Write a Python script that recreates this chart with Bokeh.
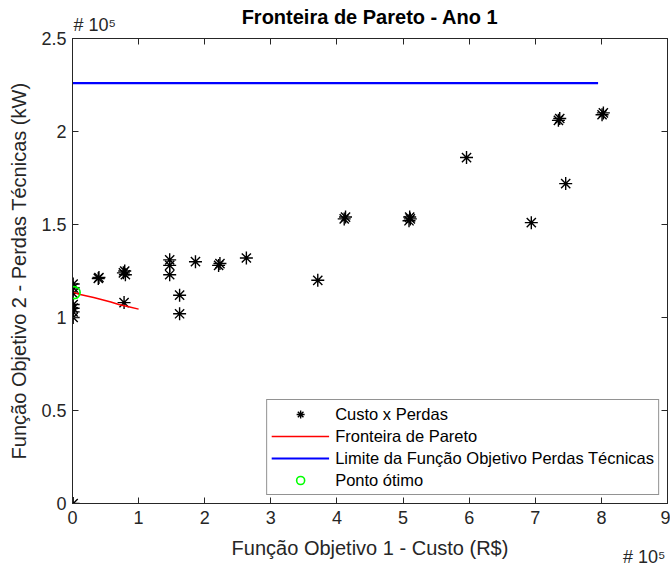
from bokeh.plotting import figure
from bokeh.models import (LinearAxis, FixedTicker, CustomJSTickFormatter, Title,
                          Legend, LegendItem, Range1d)
from bokeh.embed import file_html
from bokeh.resources import INLINE

# ---------------- data ----------------
cost = [1000, 1000, 1000, 1000, 1000, 1000, 1000, 1000,
        39000, 40000, 77000, 79000, 80000, 78000,
        147000, 147000, 147000, 162000, 162000, 186000,
        221000, 223000, 263000, 371000, 411000, 413000,
        509000, 510000, 511000, 596000, 694000, 735000,
        737000, 746000, 801000, 803000]
losses = [0, 118000, 116000, 113000, 107000, 105000, 103000, 100000,
          121000, 121500, 124000, 125000, 123000, 108000,
          131000, 128000, 123000, 112000, 102000, 130000,
          128000, 129000, 132000, 120000, 153000, 154000,
          152000, 154000, 153000, 186000, 151000, 206000,
          207000, 172000, 209000, 210000]

pareto_cost = [2000, 10000, 20000, 32000, 45000, 58000, 70000, 85000, 100000]
pareto_loss = [113500, 112500, 111700, 110700, 109500, 108300, 107000, 105800, 104500]

limit_cost = [0, 795000]
limit_loss = [226000, 226000]

opt_cost = [2500]
opt_loss = [113400]

x_ticks = [0, 100000, 200000, 300000, 400000, 500000, 600000, 700000, 800000, 900000]
y_ticks = [0, 50000, 100000, 150000, 200000, 250000]

title_text = "Fronteira de Pareto - Ano 1"
x_label = "Função Objetivo 1 - Custo (R$)"
y_label = "Função Objetivo 2 - Perdas Técnicas (kW)"
exp_text = "# 10\u2075"
legend_labels = ["Custo x Perdas", "Fronteira de Pareto",
                 "Limite da Função Objetivo Perdas Técnicas", "Ponto ótimo"]

# ---------------- styling ----------------
FONT = "Liberation Sans"
AX = "#262626"

p = figure(width=670, height=568, output_backend="svg", toolbar_location=None,
           x_range=Range1d(0, 900000), y_range=Range1d(0, 250000),
           min_border_left=72, min_border_right=3, min_border_top=38,
           min_border_bottom=65)

p.xgrid.visible = False
p.ygrid.visible = False
p.outline_line_color = AX
p.outline_line_width = 1
p.background_fill_color = "white"
p.border_fill_color = "white"

fmt = CustomJSTickFormatter(code="return String(Math.round(tick/1e4)/10);")

for ax in (p.xaxis[0], p.yaxis[0]):
    ax.formatter = fmt
    ax.major_tick_in = 6
    ax.major_tick_out = 0
    ax.minor_tick_in = 0
    ax.minor_tick_out = 0
    ax.axis_line_color = AX
    ax.major_tick_line_color = AX
    ax.major_label_text_color = AX
    ax.major_label_text_font = FONT
    ax.major_label_text_font_size = "18px"
    ax.axis_label_text_font = FONT
    ax.axis_label_text_font_size = "20px"
    ax.axis_label_text_font_style = "normal"
    ax.axis_label_text_color = AX

p.xaxis[0].ticker = FixedTicker(ticks=x_ticks)
p.yaxis[0].ticker = FixedTicker(ticks=y_ticks)
p.xaxis[0].axis_label = x_label
p.yaxis[0].axis_label = y_label
p.xaxis[0].major_label_standoff = 7
p.xaxis[0].axis_label_standoff = 10
p.yaxis[0].major_label_standoff = 6
p.yaxis[0].axis_label_standoff = 8

# mirrored ticks on top and right (box on); their labels are not painted
top_ax = LinearAxis(ticker=FixedTicker(ticks=x_ticks), major_label_text_font_size="0px",
                    major_label_text_color=None,
                    major_label_standoff=0, major_tick_in=6, major_tick_out=0,
                    minor_tick_in=0, minor_tick_out=0, axis_line_color=AX,
                    major_tick_line_color=AX)
right_ax = LinearAxis(ticker=FixedTicker(ticks=y_ticks), major_label_text_font_size="0px",
                      major_label_text_color=None,
                      major_label_standoff=0, major_tick_in=6, major_tick_out=0,
                      minor_tick_in=0, minor_tick_out=0, axis_line_color=AX,
                      major_tick_line_color=AX)
p.add_layout(top_ax, "above")
p.add_layout(right_ax, "right")

# exponent labels (MATLAB style) as side-panel titles
exp_top = Title(text=exp_text, align="left", text_font=FONT, text_font_size="18px",
                text_font_style="normal", text_color=AX, standoff=7, offset=1)
p.add_layout(exp_top, "above")
main_title = Title(text=title_text, align="center", text_font=FONT,
                   text_font_size="20px", text_font_style="bold", text_color="#000000",
                   standoff=-36, offset=0)
p.add_layout(main_title, "above")
exp_bot = Title(text=exp_text, align="right", vertical_align="top", text_font=FONT,
                text_font_size="18px", text_font_style="normal", text_color=AX,
                standoff=-30, offset=2)
p.add_layout(exp_bot, "below")

# ---------------- glyphs ----------------
r_pts = p.scatter(cost, losses, marker="asterisk", size=13, line_color="black",
                  line_width=1.4)
r_par = p.line(pareto_cost, pareto_loss, line_color="#FF0000", line_width=1.5)
r_lim = p.line(limit_cost, limit_loss, line_color="#0000FF", line_width=2.2)
r_opt = p.scatter(opt_cost, opt_loss, marker="circle", size=12, fill_color=None,
                  line_color="#00FF00", line_width=1.6)

legend = Legend(items=[
    LegendItem(label=legend_labels[0], renderers=[r_pts]),
    LegendItem(label=legend_labels[1], renderers=[r_par]),
    LegendItem(label=legend_labels[2], renderers=[r_lim]),
    LegendItem(label=legend_labels[3], renderers=[r_opt]),
], location="bottom_right")
legend.margin = 8
legend.padding = 4
legend.spacing = 2
legend.glyph_width = 58
legend.glyph_height = 20
legend.label_height = 20
legend.label_standoff = 6
legend.label_text_font = FONT
legend.label_text_font_size = "16.5px"
legend.label_text_color = "#000000"
legend.border_line_color = AX
legend.border_line_width = 1
legend.background_fill_color = "white"
legend.background_fill_alpha = 1
p.add_layout(legend)

open("out.html", "w").write(file_html(p, INLINE))
